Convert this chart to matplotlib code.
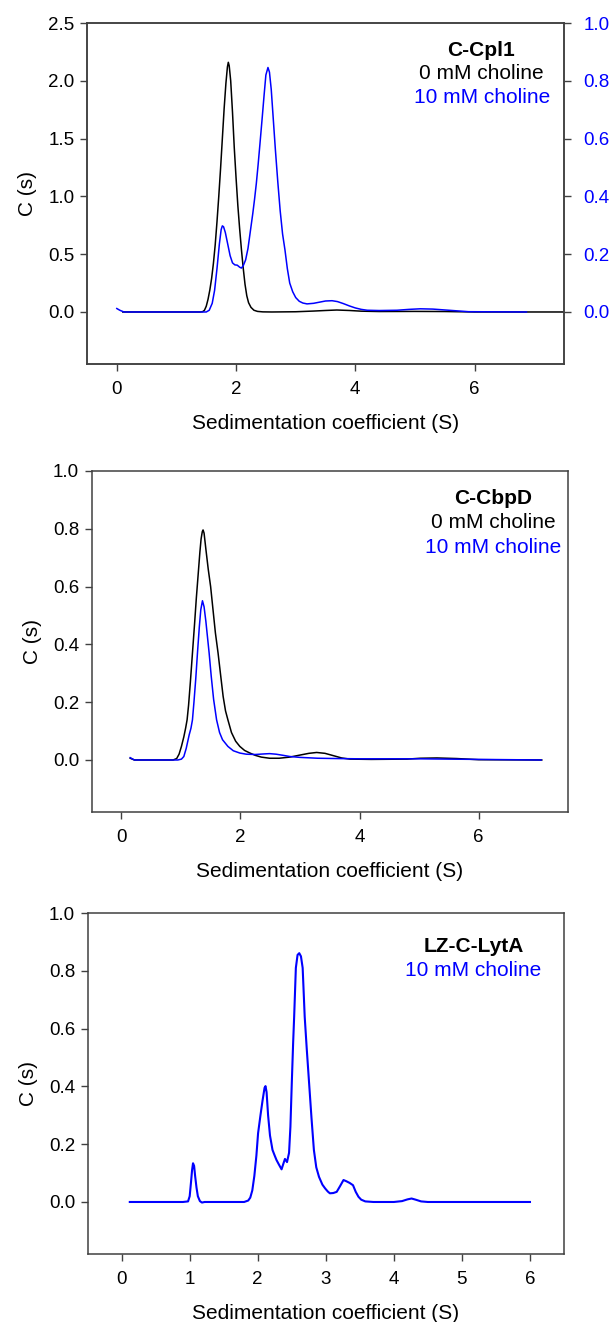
import matplotlib
matplotlib.use("Agg")
import matplotlib.pyplot as plt
from matplotlib.ticker import FormatStrFormatter

plt.rcParams['font.family'] = ['Liberation Sans', 'DejaVu Sans']

BLUE = '#0000FF'
FRAME = '#404040'

# ---------------- Panel 1 : C-Cpl1 (black: left axis, blue: right axis) ----------------
p1_black_x = [0.1, 1.40, 1.44, 1.47, 1.50, 1.53, 1.56, 1.59, 1.62, 1.65, 1.68, 1.71, 1.74,
              1.77, 1.80, 1.83, 1.855, 1.87, 1.885, 1.91, 1.94, 1.97, 2.00, 2.03, 2.06,
              2.09, 2.12, 2.15, 2.18, 2.21, 2.25, 2.30, 2.36, 2.45, 2.6, 3.0, 3.3, 3.5,
              3.69, 3.9, 4.1, 4.4, 5.0, 5.5, 6.0, 7.6]
p1_black_y = [0.0, 0.0, 0.003, 0.015, 0.05, 0.11, 0.19, 0.29, 0.42, 0.58, 0.78, 1.0, 1.24,
              1.50, 1.76, 1.98, 2.12, 2.16, 2.13, 2.0, 1.73, 1.42, 1.16, 0.92, 0.72, 0.54,
              0.38, 0.24, 0.14, 0.08, 0.04, 0.015, 0.005, 0.001, 0.0, 0.002, 0.008, 0.013,
              0.017, 0.013, 0.007, 0.004, 0.005, 0.004, 0.0, 0.0]
p1_blue_x = [0.0, 0.05, 0.12, 0.5, 1.0, 1.50, 1.55, 1.60, 1.64, 1.68, 1.72, 1.75, 1.77,
             1.79, 1.82, 1.86, 1.90, 1.94, 1.98, 2.02, 2.06, 2.09, 2.12, 2.16, 2.20, 2.24,
             2.28, 2.31, 2.34, 2.37, 2.40, 2.44, 2.47, 2.50, 2.535, 2.56, 2.59, 2.62, 2.66,
             2.70, 2.74, 2.78, 2.82, 2.86, 2.90, 2.95, 3.00, 3.06, 3.12, 3.19, 3.30, 3.40,
             3.50, 3.61, 3.70, 3.80, 3.90, 4.00, 4.10, 4.20, 4.40, 4.70, 4.90, 5.09, 5.30,
             5.50, 5.70, 5.90, 6.87]
p1_blue_y = [0.012, 0.006, 0.0, 0.0, 0.0, 0.0, 0.006, 0.03, 0.075, 0.15, 0.235, 0.285,
             0.298, 0.295, 0.275, 0.235, 0.195, 0.17, 0.163, 0.162, 0.155, 0.152, 0.16,
             0.18, 0.22, 0.28, 0.34, 0.39, 0.445, 0.51, 0.58, 0.676, 0.75, 0.82, 0.846,
             0.83, 0.77, 0.68, 0.56, 0.45, 0.35, 0.27, 0.215, 0.15, 0.10, 0.07, 0.05,
             0.037, 0.031, 0.028, 0.03, 0.034, 0.038, 0.039, 0.036, 0.029, 0.021, 0.014,
             0.009, 0.006, 0.005, 0.006, 0.009, 0.011, 0.01, 0.007, 0.004, 0.001, 0.0]
p1_left_ticks = [0.0, 0.5, 1.0, 1.5, 2.0, 2.5]
p1_right_ticks = [0.0, 0.2, 0.4, 0.6, 0.8, 1.0]
p1_x_ticks = [0, 2, 4, 6]

# ---------------- Panel 2 : C-CbpD ----------------
p2_black_x = [0.15, 0.22, 0.5, 0.87, 0.93, 0.97, 1.01, 1.05, 1.08, 1.105, 1.13, 1.16,
              1.195, 1.23, 1.26, 1.29, 1.32, 1.34, 1.36, 1.373, 1.39, 1.42, 1.46, 1.50,
              1.54, 1.58, 1.625, 1.67, 1.71, 1.75, 1.79, 1.85, 1.92, 1.99, 2.07, 2.16,
              2.25, 2.35, 2.49, 2.65, 2.83, 3.0, 3.15, 3.28, 3.42, 3.56, 3.70, 3.84, 4.2,
              4.8, 5.02, 5.3, 5.63, 6.0, 7.06]
p2_black_y = [0.006, 0.0, 0.0, 0.0, 0.005, 0.02, 0.047, 0.08, 0.11, 0.139, 0.19, 0.27,
              0.37, 0.47, 0.56, 0.64, 0.72, 0.765, 0.79, 0.796, 0.785, 0.73, 0.66, 0.60,
              0.52, 0.44, 0.37, 0.29, 0.22, 0.17, 0.139, 0.095, 0.065, 0.047, 0.033,
              0.024, 0.016, 0.010, 0.006, 0.006, 0.010, 0.017, 0.023, 0.026, 0.023, 0.015,
              0.007, 0.003, 0.002, 0.003, 0.006, 0.007, 0.005, 0.001, 0.0]
p2_blue_x = [0.15, 0.22, 0.5, 0.95, 1.01, 1.05, 1.09, 1.14, 1.17, 1.195, 1.22, 1.25, 1.279,
             1.31, 1.335, 1.363, 1.39, 1.42, 1.45, 1.475, 1.51, 1.55, 1.60, 1.65, 1.70,
             1.79, 1.88, 1.99, 2.1, 2.25, 2.4, 2.49, 2.6, 2.72, 2.83, 3.0, 3.3, 3.6, 4.0,
             4.5, 5.0, 5.5, 6.0, 7.05]
p2_blue_y = [0.008, 0.0, 0.0, 0.0, 0.003, 0.012, 0.04, 0.087, 0.11, 0.139, 0.2, 0.28,
             0.37, 0.46, 0.52, 0.551, 0.53, 0.48, 0.42, 0.37, 0.29, 0.21, 0.139, 0.095,
             0.07, 0.047, 0.032, 0.024, 0.02, 0.019, 0.021, 0.022, 0.02, 0.016, 0.012,
             0.009, 0.006, 0.005, 0.004, 0.004, 0.004, 0.003, 0.002, 0.0]
p2_y_ticks = [0.0, 0.2, 0.4, 0.6, 0.8, 1.0]
p2_x_ticks = [0, 2, 4, 6]

# ---------------- Panel 3 : LZ-C-LytA ----------------
p3_blue_x = [0.12, 0.5, 0.9, 0.976, 1.00, 1.02, 1.035, 1.049, 1.065, 1.08, 1.10, 1.12,
             1.15, 1.18, 1.22, 1.3, 1.6, 1.80, 1.86, 1.89, 1.92, 1.95, 1.98, 2.005, 2.04,
             2.07, 2.10, 2.114, 2.13, 2.152, 2.18, 2.217, 2.25, 2.276, 2.31, 2.35, 2.38,
             2.40, 2.43, 2.46, 2.48, 2.50, 2.52, 2.535, 2.56, 2.585, 2.61, 2.635, 2.66,
             2.69, 2.72, 2.755, 2.79, 2.825, 2.86, 2.90, 2.95, 2.99, 3.03, 3.06, 3.11,
             3.16, 3.21, 3.26, 3.30, 3.35, 3.40, 3.44, 3.48, 3.52, 3.58, 3.7, 4.0, 4.12,
             4.2, 4.26, 4.32, 4.4, 4.5, 5.0, 6.0]
p3_blue_y = [0.0, 0.0, 0.0, 0.002, 0.02, 0.07, 0.11, 0.134, 0.125, 0.09, 0.05, 0.02,
             0.003, -0.002, 0.0, 0.0, 0.0, 0.0, 0.005, 0.015, 0.04, 0.09, 0.16, 0.238,
             0.30, 0.35, 0.395, 0.401, 0.38, 0.30, 0.23, 0.18, 0.16, 0.145, 0.13, 0.113,
             0.135, 0.149, 0.138, 0.17, 0.26, 0.41, 0.55, 0.641, 0.81, 0.855, 0.861, 0.85,
             0.81, 0.641, 0.53, 0.41, 0.29, 0.18, 0.12, 0.087, 0.06, 0.047, 0.036, 0.030,
             0.031, 0.035, 0.055, 0.076, 0.072, 0.066, 0.058, 0.035, 0.018, 0.008, 0.002,
             0.0, 0.0, 0.003, 0.009, 0.012, 0.008, 0.002, 0.0, 0.0, 0.0]
p3_y_ticks = [0.0, 0.2, 0.4, 0.6, 0.8, 1.0]
p3_x_ticks = [0, 1, 2, 3, 4, 5, 6]

xlabel = 'Sedimentation coefficient (S)'
ylabel = 'C (s)'

W, H = 610, 1322
fig = plt.figure(figsize=(W / 100, H / 100), dpi=100)


def rect(l, r, t, b):
    return [l / W, 1 - b / H, (r - l) / W, (b - t) / H]


def style(ax):
    for s in ax.spines.values():
        s.set_color(FRAME)
        s.set_linewidth(1.1)
    ax.tick_params(axis='both', direction='out', length=5, width=1.0, color=FRAME,
                   labelsize=13.5, top=False, right=False)
    ax.tick_params(axis='x', pad=7.5)
    ax.tick_params(axis='y', pad=4)
    ax.yaxis.set_major_formatter(FormatStrFormatter('%.1f'))
    ax.set_xlabel(xlabel, fontsize=15, labelpad=11)
    ax.set_ylabel(ylabel, fontsize=15, labelpad=8)


# Panel 1
ax1 = fig.add_axes(rect(87, 564, 23, 364))
ax1.plot(p1_black_x, p1_black_y, color='black', lw=1.1, zorder=2)
ax1.set_xlim(-0.5, 7.5)
ax1.set_ylim(-0.45, 2.5)
ax1.set_yticks(p1_left_ticks)
ax1.set_xticks(p1_x_ticks)
style(ax1)
ax1r = ax1.twinx()
ax1r.plot(p1_blue_x, p1_blue_y, color=BLUE, lw=1.1, zorder=3)
ax1r.set_ylim(-0.18, 1.0)
ax1r.set_yticks(p1_right_ticks)
ax1r.yaxis.set_major_formatter(FormatStrFormatter('%.1f'))
for s in ax1r.spines.values():
    s.set_color(FRAME)
    s.set_linewidth(1.1)
ax1r.tick_params(axis='y', direction='out', length=5, width=1.0, color=FRAME,
                 labelsize=13.5, labelcolor=BLUE, pad=9)
fig.text(481 / W, 1 - 50 / H, 'C-Cpl1', ha='center', va='center', fontsize=15,
         fontweight='bold', color='black')
fig.text(481 / W, 1 - 73.5 / H, '0 mM choline', ha='center', va='center', fontsize=15,
         color='black')
fig.text(482 / W, 1 - 97.5 / H, '10 mM choline', ha='center', va='center', fontsize=15,
         color=BLUE)

# Panel 2
ax2 = fig.add_axes(rect(91.5, 568, 471, 812))
ax2.plot(p2_black_x, p2_black_y, color='black', lw=1.1, zorder=2)
ax2.plot(p2_blue_x, p2_blue_y, color=BLUE, lw=1.1, zorder=3)
ax2.set_xlim(-0.5, 7.5)
ax2.set_ylim(-0.18, 1.0)
ax2.set_yticks(p2_y_ticks)
ax2.set_xticks(p2_x_ticks)
style(ax2)
fig.text(493.5 / W, 1 - 498 / H, 'C-CbpD', ha='center', va='center', fontsize=15,
         fontweight='bold', color='black')
fig.text(493 / W, 1 - 523 / H, '0 mM choline', ha='center', va='center', fontsize=15,
         color='black')
fig.text(493.5 / W, 1 - 547 / H, '10 mM choline', ha='center', va='center', fontsize=15,
         color=BLUE)

# Panel 3
ax3 = fig.add_axes(rect(87.6, 564, 913, 1254))
ax3.plot(p3_blue_x, p3_blue_y, color=BLUE, lw=1.5, zorder=3)
ax3.set_xlim(-0.5, 6.5)
ax3.set_ylim(-0.18, 1.0)
ax3.set_yticks(p3_y_ticks)
ax3.set_xticks(p3_x_ticks)
style(ax3)
fig.text(473.7 / W, 1 - 947 / H, 'LZ-C-LytA', ha='center', va='center', fontsize=15,
         fontweight='bold', color='black')
fig.text(473 / W, 1 - 970 / H, '10 mM choline', ha='center', va='center', fontsize=15,
         color=BLUE)

fig.savefig('out.png', dpi=100)
